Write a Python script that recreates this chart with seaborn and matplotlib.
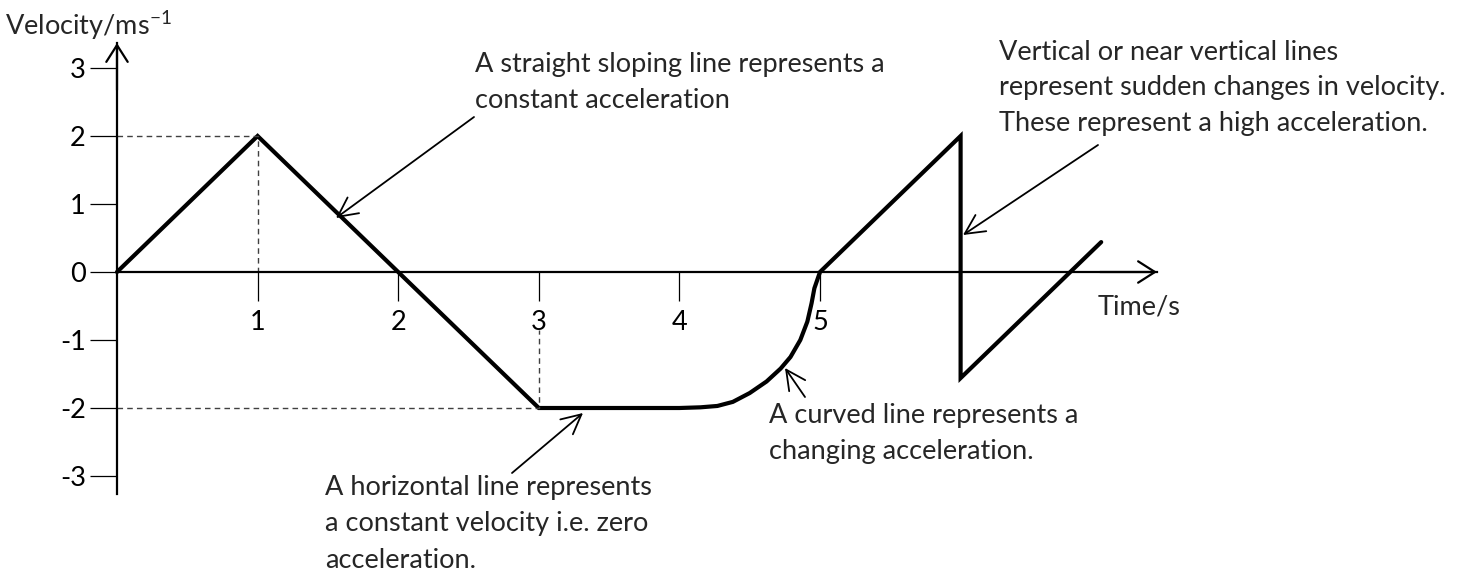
import matplotlib
matplotlib.use("Agg")
import matplotlib.pyplot as plt
import seaborn as sns
import pandas as pd

# velocity-time trace
time_s = [0, 1, 2, 3, 4, 4.15, 4.27, 4.38, 4.50, 4.62, 4.72, 4.79, 4.86, 4.91, 4.94, 4.96, 5, 6, 6, 7]
velocity = [0, 2, 0, -2, -2, -1.99, -1.97, -1.91, -1.78, -1.61, -1.42, -1.25, -1.0, -0.73, -0.46, -0.24, 0, 2, -1.56, 0.44]

x_ticks = [1, 2, 3, 4, 5]
y_ticks = [-3, -2, -1, 0, 1, 2, 3]

notes = [
    "A straight sloping line represents a\nconstant acceleration",
    "Vertical or near vertical lines\nrepresent sudden changes in velocity.\nThese represent a high acceleration.",
    "A horizontal line represents\na constant velocity i.e. zero\nacceleration.",
    "A curved line represents a\nchanging acceleration.",
]

sns.set_style("white")
plt.rcParams["font.family"] = ["Lato", "DejaVu Sans"]
plt.rcParams["mathtext.fontset"] = "custom"
plt.rcParams["mathtext.rm"] = "Lato"

FS = 19.5
W, H = 1467, 571
fig = plt.figure(figsize=(W / 100, H / 100), dpi=100)
ax = fig.add_axes([0, 0, 1, 1])

# pixel layout of the original: origin at (117, 272), 140.6 px per second, 68 px per m/s
x0, y0, sx, sy = 117, 272, 140.6, 68.0
ax.set_xlim(-x0 / sx, (W - x0) / sx)
ax.set_ylim(-(H - y0) / sy, y0 / sy)


def px(x, y):
    return (x - x0) / sx, (y0 - y) / sy


df = pd.DataFrame({"t": time_s, "v": velocity})
sns.lineplot(data=df, x="t", y="v", sort=False, estimator=None, color="black",
             lw=3.0, ax=ax, solid_joinstyle="miter")

# dashed guides to the peak and the flat section
guide = dict(color="#404040", lw=1.0, ls=(0, (4, 3)))
ax.plot([0, time_s[1], time_s[1]], [velocity[1], velocity[1], 0], **guide)
ax.plot([0, time_s[3], time_s[3]], [velocity[3], velocity[3], -0.85], **guide)

# axes through the origin
for side in ["top", "right"]:
    ax.spines[side].set_visible(False)
ax.spines["left"].set_position(("data", 0))
ax.spines["bottom"].set_position(("data", 0))
ax.spines["left"].set_bounds(px(0, 494)[1], px(0, 43)[1])
ax.spines["bottom"].set_bounds(0, px(1157, 0)[0])
for s in ["left", "bottom"]:
    ax.spines[s].set_linewidth(1.6)
    ax.spines[s].set_color("black")

ax.set_xticks(x_ticks)
ax.set_yticks(y_ticks)
ax.set_xticklabels([str(t) for t in x_ticks])
ax.set_yticklabels([str(t) for t in y_ticks])
ax.tick_params(axis="y", left=True, direction="out", length=19.5, width=0.9, pad=3,
               labelsize=FS, colors="black")
ax.tick_params(axis="x", bottom=True, direction="out", length=21, width=0.9, pad=6,
               labelsize=FS, colors="black")
ax.set_xlabel("")
ax.set_ylabel("")

# arrow heads on the axes
head = dict(arrowstyle="->,head_length=0.55,head_width=0.35", lw=1.6, color="black",
            mutation_scale=22, shrinkA=0, shrinkB=0)
ax.annotate("", xy=px(117, 43), xytext=px(117, 90), arrowprops=head)
ax.annotate("", xy=px(1157, 272), xytext=px(1100, 272), arrowprops=head)

ax.text(*px(5, 25), "Velocity/ms$^{\\mathregular{-1}}$", fontsize=FS, ha="left", va="center")
ax.text(*px(1098, 307), "Time/s", fontsize=FS, ha="left", va="center")

# annotation arrows
pointer = dict(arrowstyle="->,head_length=0.7,head_width=0.35", lw=1.3, color="black",
               mutation_scale=20, shrinkA=0, shrinkB=0)
arrows = [((474, 117), (336, 218)), ((1098, 145), (963, 235)),
          ((512, 473), (583, 413)), ((805, 397), (785, 368))]
for tail, tip in arrows:
    ax.annotate("", xy=px(*tip), xytext=px(*tail), arrowprops=pointer)

note_pos = [(475, 82), (999, 88), (325, 524), (769, 434)]
for text, (x, y) in zip(notes, note_pos):
    ax.text(*px(x, y), text, fontsize=FS, ha="left", va="center", linespacing=1.55)

fig.savefig("out.png", dpi=100)
